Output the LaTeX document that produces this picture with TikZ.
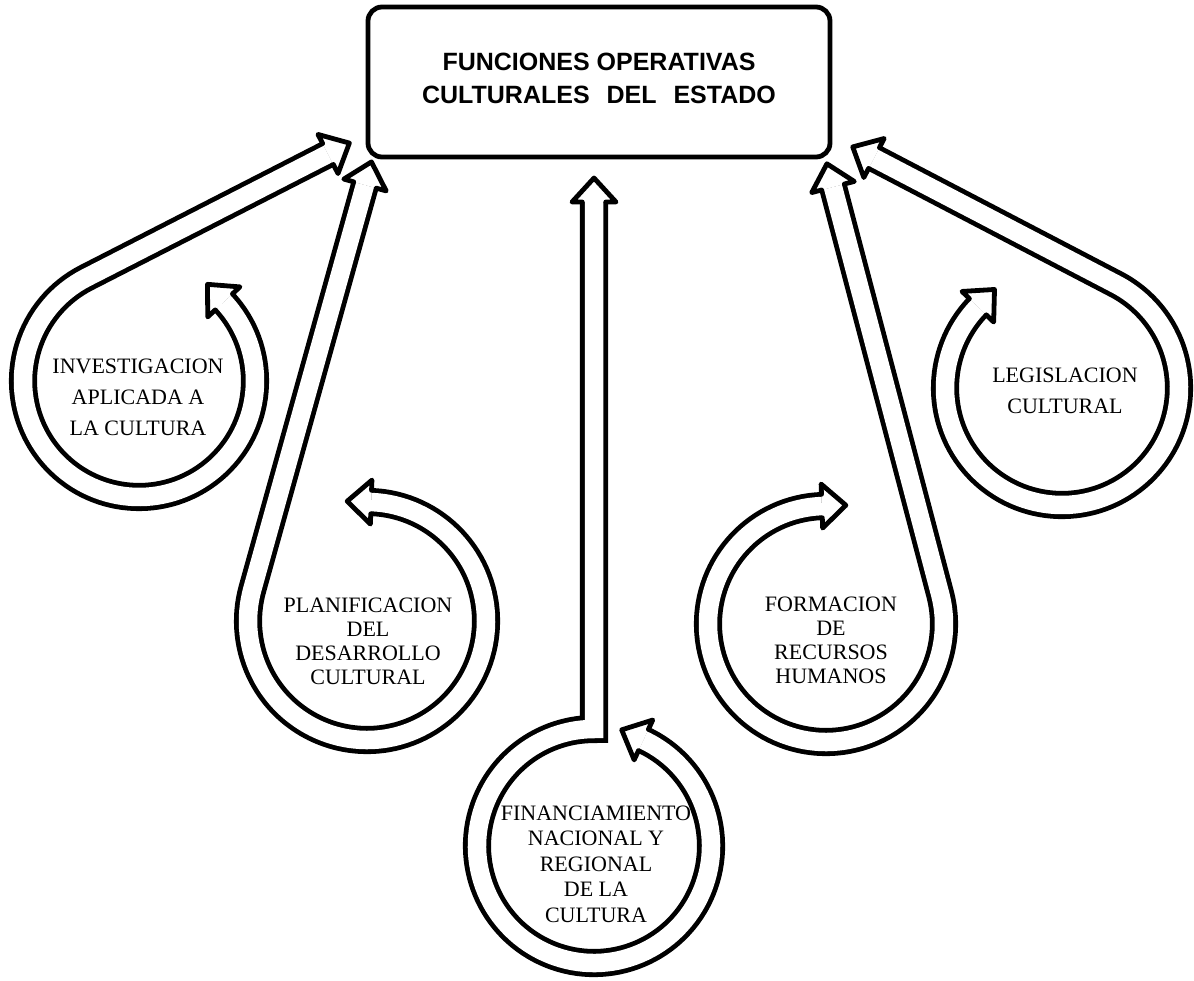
\documentclass[tikz,border=0pt]{standalone}
\usepackage{fontspec}
\setmainfont{Liberation Serif}
\newfontfamily\titlefont{Liberation Sans}
\usetikzlibrary{calc}

\def\bandhalf{11.75pt}
\def\tiphalf{22pt}
% open arrow head at the end of a band: #1 base, #2 tip
\newcommand{\hollowtip}[2]{%
  \fill[white] ($(#1)!\tiphalf!90:(#2)$) -- (#2) -- ($(#1)!\tiphalf!-90:(#2)$) -- cycle;
  \draw[tipedge] ($(#1)!\bandhalf!90:(#2)$) -- ($(#1)!\tiphalf!90:(#2)$) -- (#2)
    -- ($(#1)!\tiphalf!-90:(#2)$) -- ($(#1)!\bandhalf!-90:(#2)$);}

\begin{document}
\begin{tikzpicture}[x=1pt, y=-1pt,
    band/.style={line width=4.8pt, double=white, double distance=18.5pt},
    tipedge/.style={line width=4.8pt, line join=round, line cap=round},
    looptext/.style={align=center, font=\fontsize{22}{24}\selectfont},
    titlebox/.style={draw, line width=4.8pt, rounded corners=14pt, minimum width=462pt,
      minimum height=150pt, align=center, text depth=7pt,
      font=\titlefont\bfseries\fontsize{25}{33}\selectfont}]
  \useasboundingbox (0,0) rectangle (1194,980);

  \node[titlebox] (estado) at (599,82) {FUNCIONES OPERATIVAS\\CULTURALES\hspace{10pt} DEL\hspace{10pt} ESTADO};

  % centres of the loops
  \coordinate (inv-c) at (139,381);
  \coordinate (pla-c) at (367,621);
  \coordinate (fin-c) at (594,846);
  \coordinate (form-c) at (826,624);
  \coordinate (leg-c) at (1062,388);

  % ends of the bands
  \coordinate (inv-bi) at ($(inv-c)+(-43:116)$);
  \coordinate (inv-ti) at ($(inv-bi)+(-133:24)$);
  \coordinate (inv-bo) at (328,154);
  \coordinate (inv-to) at ($(inv-bo)+(-27.1:24)$);
  \coordinate (pla-bi) at ($(pla-c)+(-88:119)$);
  \coordinate (pla-ti) at ($(pla-bi)+(-178:24)$);
  \coordinate (pla-bo) at (365,185);
  \coordinate (pla-to) at ($(pla-bo)+(285.6:24)$);
  \coordinate (fin-bi) at ($(fin-c)+(-65:117)$);
  \coordinate (fin-ti) at ($(fin-bi)+(-155:24)$);
  \coordinate (fin-bo) at (594,202);
  \coordinate (fin-to) at (594,178);
  \coordinate (form-bi) at ($(form-c)+(-92:118)$);
  \coordinate (form-ti) at ($(form-bi)+(-2:24)$);
  \coordinate (form-bo) at (833,187);
  \coordinate (form-to) at ($(form-bo)+(-104.7:24)$);
  \coordinate (leg-bi) at ($(leg-c)+(-136:117)$);
  \coordinate (leg-ti) at ($(leg-bi)+(-46:24)$);
  \coordinate (leg-bo) at (874,158);
  \coordinate (leg-to) at ($(leg-bo)+(-152.45:24)$);

  % the bands
  \draw[band] (inv-bi) arc[start angle=-43, end angle=242.9, radius=116] -- (inv-bo);
  \draw[band] (pla-bi) arc[start angle=-88, end angle=195.6, radius=119] -- (pla-bo);
  \draw[band] (fin-bi) arc[start angle=-65, end angle=270, radius=117] -- (fin-bo);
  \draw[band] (form-bi) arc[start angle=-92, end angle=-374.7, radius=118] -- (form-bo);
  \draw[band] (leg-bi) arc[start angle=-136, end angle=-422.45, radius=117] -- (leg-bo);

  \hollowtip{inv-bi}{inv-ti}
  \hollowtip{inv-bo}{inv-to}
  \hollowtip{pla-bi}{pla-ti}
  \hollowtip{pla-bo}{pla-to}
  \hollowtip{fin-bi}{fin-ti}
  \hollowtip{fin-bo}{fin-to}
  \hollowtip{form-bi}{form-ti}
  \hollowtip{form-bo}{form-to}
  \hollowtip{leg-bi}{leg-ti}
  \hollowtip{leg-bo}{leg-to}

  \node[looptext, font=\fontsize{22}{31}\selectfont] (inv) at (138,397) {INVESTIGACION\\APLICADA A\\LA CULTURA};
  \node[looptext] (pla) at (368,641) {PLANIFICACION\\DEL\\DESARROLLO\\CULTURAL};
  \node[looptext, font=\fontsize{22}{25.5}\selectfont] (fin) at (596,864) {FINANCIAMIENTO\\NACIONAL Y\\REGIONAL\\DE LA\\CULTURA};
  \node[looptext] (form) at (831,640) {FORMACION\\DE\\RECURSOS\\HUMANOS};
  \node[looptext, font=\fontsize{22}{31}\selectfont] (leg) at (1065,391) {LEGISLACION\\CULTURAL};
\end{tikzpicture}
\end{document}
